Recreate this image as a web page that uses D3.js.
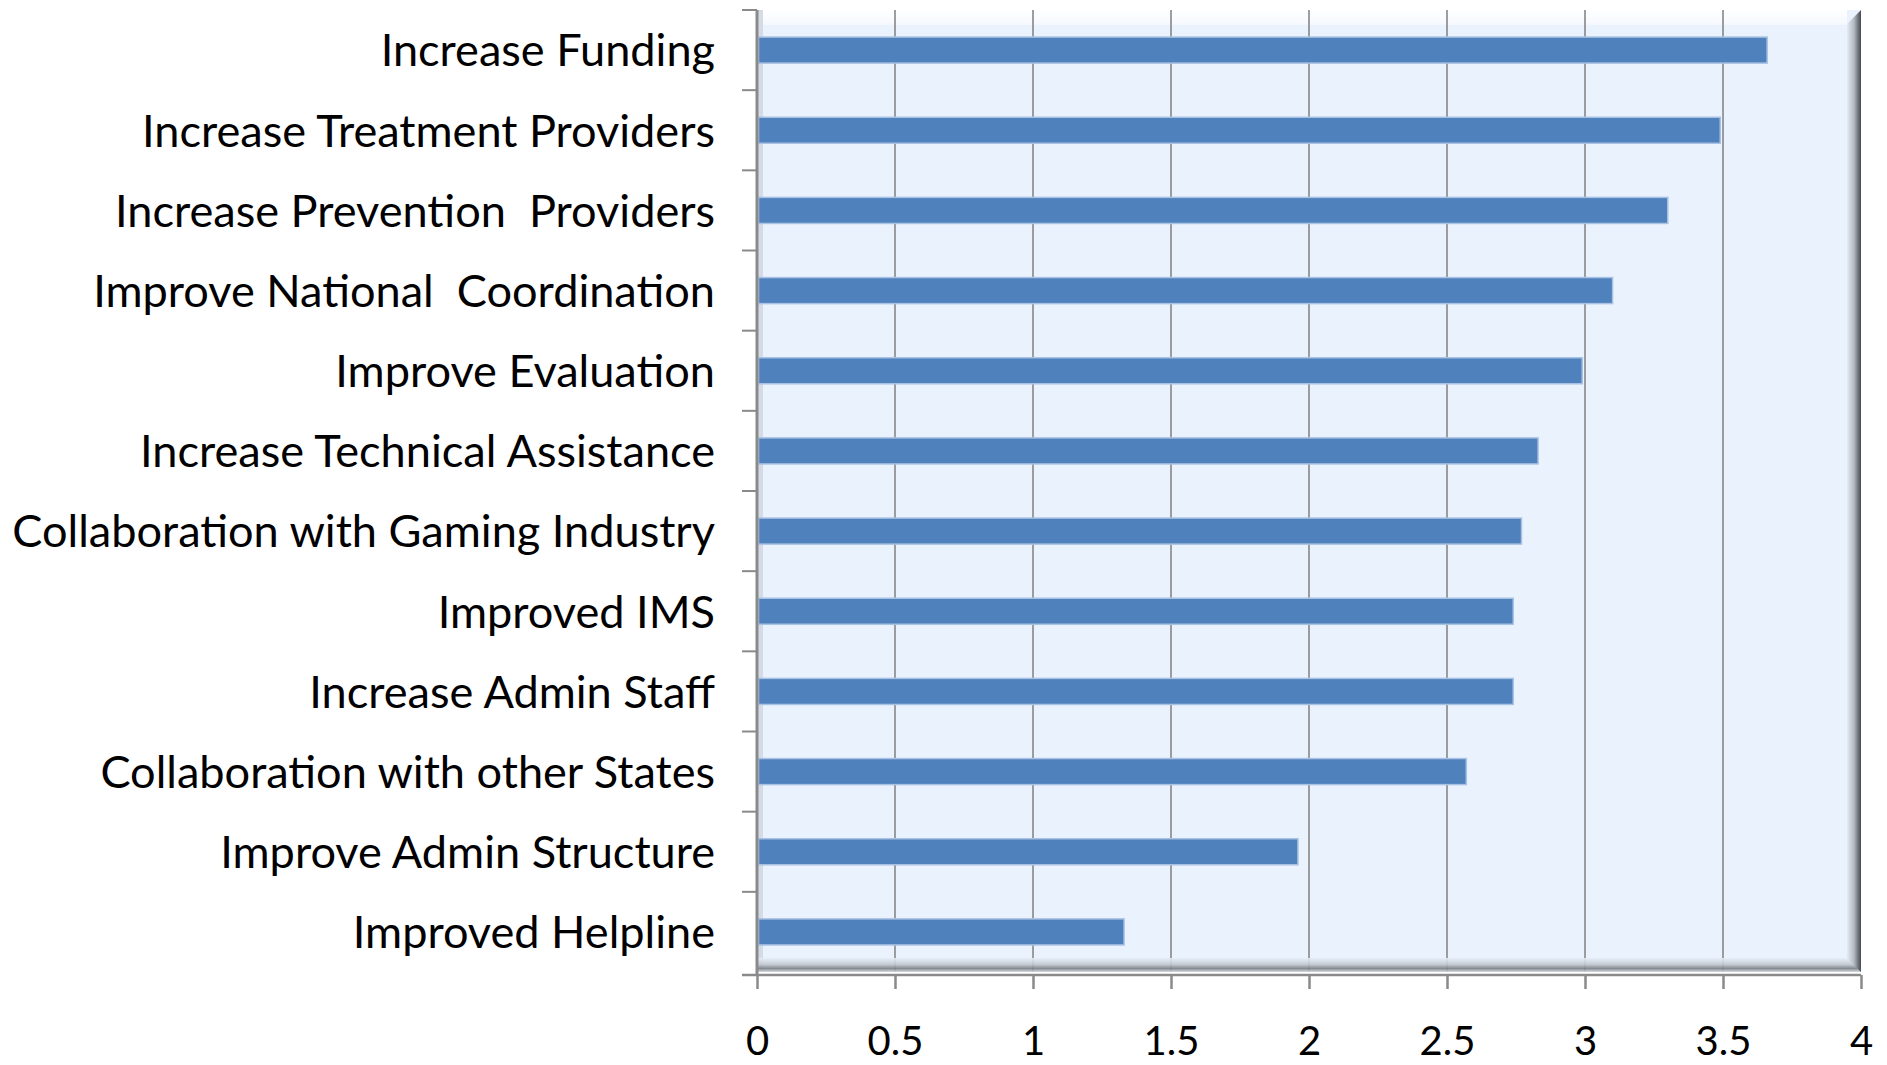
<!DOCTYPE html>
<html lang="en">
<head>
<meta charset="UTF-8"/>
<title>Priorities bar chart</title>
<style>
  body { margin: 0; background: #fff; }
  svg text { font-family: "Gill Sans MT", "Gill Sans", Lato, sans-serif; fill: #000; }
</style>
</head>
<body>
<svg id="chart" width="1887" height="1065"></svg>
<script src="https://cdn.jsdelivr.net/npm/d3@7"></script>
<script>
    // data, top bar first
    var categories = [
        "Increase Funding",
        "Increase Treatment Providers",
        "Increase Prevention  Providers",
        "Improve National  Coordination",
        "Improve Evaluation",
        "Increase Technical Assistance",
        "Collaboration with Gaming Industry",
        "Improved IMS",
        "Increase Admin Staff",
        "Collaboration with other States",
        "Improve Admin Structure",
        "Improved Helpline"
    ];
    var values = [3.66, 3.49, 3.30, 3.10, 2.99, 2.83, 2.77, 2.74, 2.74, 2.57, 1.96, 1.33];
    var xTicks = [0, 0.5, 1, 1.5, 2, 2.5, 3, 3.5, 4];
    var xTickLabels = ["0", "0.5", "1", "1.5", "2", "2.5", "3", "3.5", "4"];

    var svg = d3.select("#chart");
    // plot box ("top" is a read-only window global, so avoid that name)
    var pLeft = 757, pRight = 1861, pTop = 10, pBottom = 972;

    var x = d3.scaleLinear().domain([0, 4]).range([pLeft, pRight]);
    var y = d3.scaleBand().domain(categories).range([pTop, pBottom])
        .paddingInner(0.675).paddingOuter(0.3375);

    var defs = svg.append("defs");
    var floorGrad = defs.append("linearGradient").attr("id", "floor")
        .attr("x1", 0).attr("y1", 0).attr("x2", 0).attr("y2", 1);
    floorGrad.append("stop").attr("offset", "0%").attr("stop-color", "#e6eef8");
    floorGrad.append("stop").attr("offset", "45%").attr("stop-color", "#c3c9d1");
    floorGrad.append("stop").attr("offset", "75%").attr("stop-color", "#7c8087");
    floorGrad.append("stop").attr("offset", "100%").attr("stop-color", "#d6dae0");

    var wallGrad = defs.append("linearGradient").attr("id", "rwall")
        .attr("x1", 0).attr("y1", 0).attr("x2", 1).attr("y2", 0);
    wallGrad.append("stop").attr("offset", "0%").attr("stop-color", "#e3ebf4");
    wallGrad.append("stop").attr("offset", "50%").attr("stop-color", "#b4bac2");
    wallGrad.append("stop").attr("offset", "80%").attr("stop-color", "#6f747b");
    wallGrad.append("stop").attr("offset", "100%").attr("stop-color", "#45494f");

    var topGrad = defs.append("linearGradient").attr("id", "topband")
        .attr("x1", 0).attr("y1", 0).attr("x2", 0).attr("y2", 1);
    topGrad.append("stop").attr("offset", "0%").attr("stop-color", "#ffffff");
    topGrad.append("stop").attr("offset", "100%").attr("stop-color", "#f4f8fe");

    // plot background
    svg.append("rect")
        .attr("x", pLeft).attr("y", pTop)
        .attr("width", pRight - pLeft).attr("height", pBottom - pTop)
        .attr("fill", "#eaf3fd");
    svg.append("rect")
        .attr("x", pLeft).attr("y", pTop)
        .attr("width", pRight - pLeft - 14).attr("height", 15)
        .attr("fill", "url(#topband)");
    svg.append("rect")
        .attr("x", pLeft + 1).attr("y", pTop)
        .attr("width", 5).attr("height", pBottom - pTop)
        .attr("fill", "#d4dbe4");

    // gridlines
    svg.append("g")
        .selectAll("line")
        .data(xTicks.filter(function (d) { return d > 0 && d < 4; }))
        .enter().append("line")
        .attr("x1", function (d) { return x(d); })
        .attr("x2", function (d) { return x(d); })
        .attr("y1", pTop).attr("y2", pBottom)
        .attr("stroke", "#868686")
        .attr("stroke-width", 1.6);

    // floor and right wall
    svg.append("rect")
        .attr("x", pLeft).attr("y", pBottom - 14)
        .attr("width", pRight - pLeft).attr("height", 14)
        .attr("fill", "url(#floor)").attr("opacity", 0.9);
    svg.append("polygon")
        .attr("points", [[pRight - 14, pTop + 14], [pRight, pTop], [pRight, pBottom], [pRight - 14, pBottom - 14]].join(" "))
        .attr("fill", "url(#rwall)");

    // bars
    svg.append("g")
        .selectAll("rect")
        .data(values)
        .enter().append("rect")
        .attr("x", x(0) + 1.5)
        .attr("y", function (d, i) { return y(categories[i]); })
        .attr("width", function (d) { return x(d) - x(0) - 1.5; })
        .attr("height", y.bandwidth())
        .attr("fill", "#4f81bd")
        .attr("stroke", "#a9c2e3")
        .attr("stroke-width", 1.5);

    // left axis line and boundary ticks
    var boundaries = d3.range(categories.length + 1).map(function (i) { return pTop + i * y.step(); });
    svg.append("line")
        .attr("x1", pLeft).attr("x2", pLeft)
        .attr("y1", pTop).attr("y2", pBottom + 3)
        .attr("stroke", "#8a8a8a").attr("stroke-width", 3);
    svg.append("g")
        .selectAll("line")
        .data(boundaries.slice(0, -1))
        .enter().append("line")
        .attr("x1", pLeft - 15).attr("x2", pLeft)
        .attr("y1", function (d) { return d; })
        .attr("y2", function (d) { return d; })
        .attr("stroke", "#8a8a8a").attr("stroke-width", 2);

    // x axis
    var xAxis = svg.append("g")
        .attr("transform", "translate(0," + (pBottom + 3) + ")")
        .call(d3.axisBottom(x)
            .tickValues(xTicks)
            .tickFormat(function (d, i) { return xTickLabels[i]; })
            .tickSize(14)
            .tickSizeOuter(0)
            .tickPadding(38));
    xAxis.select(".domain").attr("stroke", "#8a8a8a").attr("stroke-width", 2.5)
        .attr("d", "M" + (pLeft - 15) + ",0H" + pRight);
    xAxis.selectAll(".tick line").attr("stroke", "#8a8a8a").attr("stroke-width", 2.5);
    xAxis.selectAll(".tick text")
        .style("font-size", "40px")
        .attr("dy", "0.71em");

    // category labels
    var yAxis = svg.append("g")
        .attr("transform", "translate(" + pLeft + ",0)")
        .call(d3.axisLeft(y).tickSize(0).tickPadding(42));
    yAxis.select(".domain").remove();
    yAxis.selectAll(".tick text")
        .style("font-size", "38px")
        .style("white-space", "pre")
        .attr("dy", "0.36em");

    // fit widest label to the reference width
    var widest = d3.max(yAxis.selectAll(".tick text").nodes(), function (n) { return n.getComputedTextLength(); });
    var fs = 38 * 702 / widest;
    yAxis.selectAll(".tick text").style("font-size", fs.toFixed(1) + "px");
</script>
</body>
</html>
